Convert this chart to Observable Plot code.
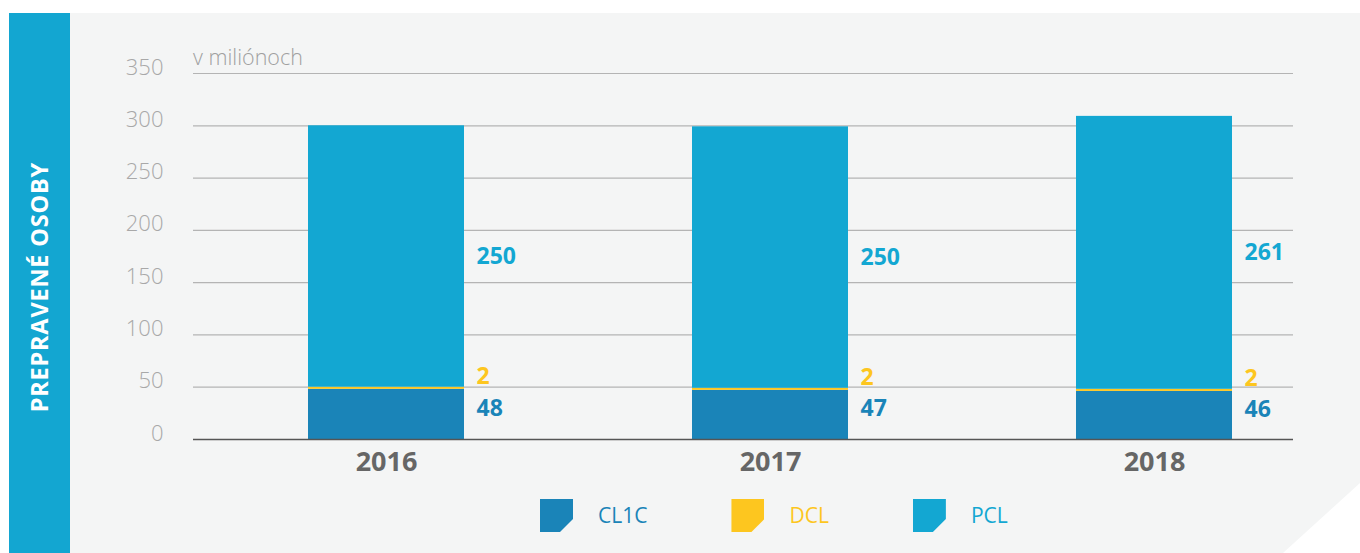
<!DOCTYPE html>
<html>
<head>
<meta charset="utf-8">
<script src="https://cdn.jsdelivr.net/npm/d3@7"></script>
<script src="https://cdn.jsdelivr.net/npm/@observablehq/plot@0.6"></script>
<style>
  html, body { margin: 0; padding: 0; background: #ffffff; }
  #wrap { position: relative; width: 1360px; height: 553px; overflow: hidden; font-family: "Open Sans", sans-serif; }
  #side { position: absolute; left: 9px; top: 13px; width: 61px; height: 540px; background: #13a6d1; }
  #sideText { position: absolute; left: 9px; top: 13px; width: 61px; height: 540px; display: flex; align-items: center; justify-content: center; }
  #sideText span { writing-mode: vertical-rl; transform: rotate(180deg); color: #ffffff; font-weight: 700; font-size: 23.5px; letter-spacing: 0.8px; white-space: nowrap; margin-top: 8px; margin-left: -2px; }
  #panel { position: absolute; left: 70px; top: 13px; width: 1290px; height: 540px; background: #f4f5f5;
           clip-path: polygon(0 0, 1290px 0, 1290px 470px, 1213px 540px, 0 540px); }
  #chart { position: absolute; left: 0; top: 0; }
  #unit { position: absolute; left: 193px; top: 42px; font-size: 21.5px; color: #a0a0a0; font-weight: 300; }
  #legend { position: absolute; left: 540px; top: 499px; display: flex; gap: 84px; align-items: center; }
  .item { display: flex; align-items: center; gap: 25px; }
  .sw { width: 33px; height: 33px; clip-path: polygon(0 0, 33px 0, 33px 20px, 20px 33px, 0 33px); }
  .lab { font-size: 21px; line-height: 33px; }
</style>
</head>
<body>
<div id="wrap">
  <div id="side"></div>
  <div id="sideText"><span id="sideLabel"></span></div>
  <div id="panel"></div>
  <div id="chart"></div>
  <div id="unit"></div>
  <div id="legend"></div>
</div>
<script>
const years = ["2016", "2017", "2018"];
const series = ["CL1C", "DCL", "PCL"];
const cl1c = [48, 47, 46];
const dcl = [2, 2, 2];
const pcl = [250, 250, 261];
const colors = ["#1a84b8", "#fdc61f", "#13a7d2"];
const yTicks = [0, 50, 100, 150, 200, 250, 300, 350];
const sideTitle = "PREPRAVENÉ OSOBY";
const unitLabel = "v miliónoch";

const valuesBySeries = {CL1C: cl1c, DCL: dcl, PCL: pcl};
const rows = [];
years.forEach((year, i) => {
  series.forEach(s => rows.push({year, series: s, value: valuesBySeries[s][i]}));
});

document.getElementById("sideLabel").textContent = sideTitle;
document.getElementById("unit").textContent = unitLabel;

const labelDy = {CL1C: -6, DCL: -12, PCL: 0};

const textMarks = series.map((s, i) =>
  Plot.text(rows, Plot.stackY({
    x: "year", y: "value", z: "series", order: series,
    text: d => d.series === s ? String(d.value) : "",
    fill: colors[i], textAnchor: "start", dx: 90, dy: labelDy[s],
    fontSize: 23, fontWeight: 700
  }))
);

const chart = Plot.plot({
  width: 1360,
  height: 553,
  marginLeft: 193,
  marginRight: 67,
  marginTop: 73,
  marginBottom: 114,
  style: {fontFamily: "Open Sans, sans-serif", background: "transparent", overflow: "visible"},
  x: {domain: years, range: [307, 1233], paddingInner: 0.5948, paddingOuter: 0, label: null},
  y: {domain: [0, 350], label: null},
  color: {domain: series, range: colors},
  marks: [
    Plot.ruleY(yTicks.filter(d => d > 0), {stroke: "#b4b4b4", strokeWidth: 1.2}),
    Plot.barY(rows, Plot.stackY({x: "year", y: "value", fill: "series", order: series})),
    Plot.ruleY([0], {stroke: "#555555", strokeWidth: 1.5}),
    Plot.axisY({ticks: yTicks, tickSize: 0, tickPadding: 30, dy: -6, fontSize: 22, fontWeight: 300, color: "#a8a8a8", label: null}),
    Plot.axisX({tickSize: 0, tickPadding: 12, fontSize: 27, fontWeight: 700, color: "#666666", label: null}),
    ...textMarks
  ]
});
document.getElementById("chart").appendChild(chart);

const legend = document.getElementById("legend");
series.forEach((s, i) => {
  const item = document.createElement("div");
  item.className = "item";
  const sw = document.createElement("div");
  sw.className = "sw";
  sw.style.background = colors[i];
  const lab = document.createElement("span");
  lab.className = "lab";
  lab.style.color = colors[i];
  lab.textContent = s;
  item.appendChild(sw);
  item.appendChild(lab);
  legend.appendChild(item);
});
</script>
</body>
</html>
